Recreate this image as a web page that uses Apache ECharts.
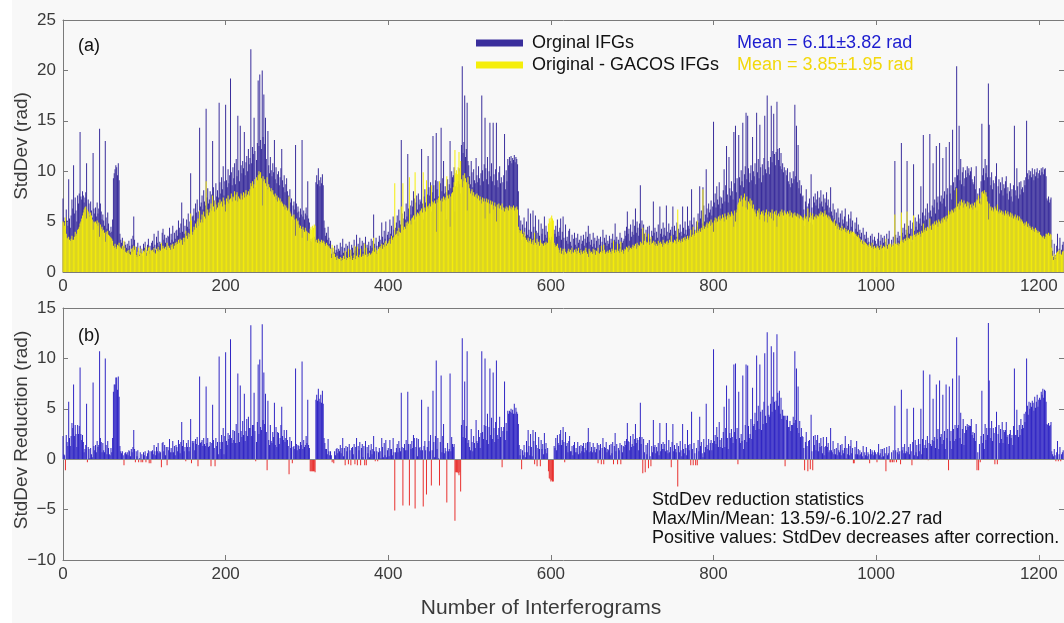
<!DOCTYPE html>
<html><head><meta charset="utf-8">
<script src="https://cdn.jsdelivr.net/npm/echarts@6/dist/echarts.min.js"></script>
<style>html,body{margin:0;padding:0;background:#fff}#c{width:1064px;height:623px}</style>
</head><body><div id="c"></div>
<script>
const X_TICKS = [0, 200, 400, 600, 800, 1000, 1200];
const YA_TICKS = [0, 5, 10, 15, 20, 25];
const YB_TICKS = [-10, -5, 0, 5, 10, 15];
const SERIES_NAMES = ['Orginal IFGs', 'Original - GACOS IFGs'];
const MEAN_TEXT = ['Mean = 6.11\u00b13.82 rad', 'Mean = 3.85\u00b11.95 rad'];
const STATS_TEXT = ['StdDev reduction statistics', 'Max/Min/Mean: 13.59/-6.10/2.27 rad', 'Positive values: StdDev decreases after correction.'];

// StdDev of original interferograms (blue, panel a), one value per interferogram
const ORIG = [
7.3,5.4,5.0,4.3,6.2,5.1,4.6,9.2,5.3,4.4,
5.6,7.2,6.3,10.6,5.8,7.4,6.1,5.0,7.6,6.8,
7.8,13.9,7.5,7.2,8.0,7.6,6.9,7.4,7.9,10.8,
5.9,7.2,6.8,5.6,7.0,6.1,5.4,11.8,6.3,5.8,
6.4,5.5,6.9,5.8,6.3,14.2,6.8,6.0,5.2,5.7,
5.1,4.6,13.0,5.4,4.3,5.9,4.8,4.1,3.9,4.5,
4.0,5.2,9.3,9.8,10.2,10.6,10.4,9.6,10.8,9.1,
3.8,3.2,2.9,3.4,2.6,2.5,3.0,2.7,2.4,2.8,
2.3,3.1,2.6,2.0,3.3,2.7,3.6,5.5,3.2,2.2,
2.5,1.8,2.9,2.1,1.7,2.6,2.0,2.3,1.6,2.8,
2.4,3.0,2.2,1.9,2.7,3.3,2.1,2.6,1.8,2.9,
3.1,2.5,3.8,2.7,2.2,3.5,2.9,4.1,2.6,3.0,
2.8,2.1,3.9,4.3,3.2,3.7,2.9,3.4,2.3,3.6,
3.5,4.4,2.9,3.8,3.2,4.6,3.0,3.9,3.3,4.1,
4.2,3.6,5.1,4.4,3.9,4.8,6.9,4.0,5.3,3.8,
4.6,3.9,5.2,4.5,5.8,4.3,5.0,9.8,4.7,5.5,
5.6,6.3,5.1,6.8,5.9,7.2,4.6,6.0,14.3,6.5,
6.9,7.6,6.2,8.1,7.0,6.6,16.2,7.4,8.3,6.8,
7.2,8.0,6.1,7.7,13.0,8.4,7.1,6.4,8.8,7.5,
8.1,7.4,16.8,8.9,7.8,9.4,8.2,10.5,7.6,9.0,
16.6,9.1,8.4,10.2,8.8,9.6,19.2,9.9,8.6,10.4,
9.3,10.8,8.7,11.2,9.5,15.5,10.1,9.0,14.5,10.6,
9.8,11.0,10.3,13.9,9.6,10.9,11.5,10.0,12.2,10.7,
11.3,22.1,10.8,12.4,11.7,15.3,12.0,8.4,11.1,12.8,
19.0,12.5,19.6,13.1,12.2,20.0,13.4,17.6,12.7,15.3,
11.2,8.3,14.0,10.6,9.8,11.4,10.1,9.5,10.8,9.9,
13.1,9.2,10.4,8.8,9.7,10.0,8.6,9.4,10.3,12.2,
9.1,8.4,9.6,7.9,8.7,9.3,8.0,7.6,6.0,8.2,
6.9,7.3,5.2,6.6,7.0,6.2,12.6,6.8,5.9,6.5,
6.0,5.4,6.3,5.7,13.1,5.5,6.1,5.2,5.8,6.4,
5.6,9.0,5.3,4.9,3.1,3.3,3.0,3.4,3.2,3.5,
3.3,8.9,9.6,8.7,10.3,9.1,8.5,9.4,8.8,9.7,
8.6,5.1,4.4,3.6,3.9,3.2,4.5,3.4,2.8,3.1,
1.8,2.4,1.6,2.0,2.6,1.9,2.2,2.7,2.0,2.3,
2.1,2.9,1.7,2.5,3.3,1.9,2.4,1.5,2.8,2.0,
2.6,1.8,3.0,2.2,1.6,2.7,2.4,1.9,3.2,2.1,
2.5,3.7,1.9,2.8,2.3,3.4,1.7,2.6,3.1,2.0,
2.9,2.2,3.5,1.8,2.7,2.4,3.0,2.1,2.6,3.3,
2.4,3.1,5.7,2.8,2.2,3.4,2.6,1.9,3.0,3.6,
3.2,2.7,4.9,3.5,2.9,4.1,3.3,5.0,2.8,3.7,
4.0,3.4,5.2,3.8,4.6,3.6,5.5,4.2,3.7,4.4,
4.9,5.6,4.3,6.2,5.1,4.7,13.1,5.8,4.2,5.3,
6.0,5.2,6.8,5.5,11.7,6.3,4.8,6.6,5.7,7.1,
6.5,8.0,7.3,5.0,6.9,7.6,6.2,7.8,6.7,7.2,
7.0,12.2,6.8,5.2,7.5,8.2,6.9,5.6,7.7,11.5,
8.4,7.6,8.9,6.0,7.9,13.5,8.6,7.3,9.1,13.8,
8.2,9.0,7.5,6.4,8.8,14.3,8.0,9.3,11.0,7.8,
8.5,7.9,5.2,9.2,8.1,8.7,13.0,8.3,10.0,9.4,
9.6,10.4,6.0,8.5,8.8,8.4,9.0,10.3,8.7,7.8,
12.6,20.4,11.8,12.9,17.5,11.4,12.2,16.8,11.0,10.6,
9.5,8.7,11.0,9.9,8.4,10.2,9.1,8.8,11.3,9.6,
8.9,10.5,9.3,8.6,9.8,17.5,10.1,9.0,10.7,15.3,
10.3,9.2,11.4,8.7,10.0,14.8,9.5,10.8,9.0,14.8,
9.7,8.6,10.2,14.8,9.1,8.4,9.9,10.5,8.8,9.4,
6.0,8.9,9.6,13.7,8.2,10.1,9.0,11.2,10.6,11.4,
11.0,11.5,10.8,11.3,11.1,11.6,10.9,11.4,11.2,10.7,
8.0,5.6,4.3,5.1,3.2,4.7,3.9,5.4,4.4,3.6,
5.0,3.7,6.3,4.2,3.5,5.8,4.0,3.3,6.1,4.5,
3.4,5.6,4.1,2.6,3.9,5.2,3.6,2.5,4.8,3.8,
4.3,3.1,5.5,3.7,4.6,3.4,4.0,3.6,3.4,3.0,
3.2,3.5,3.1,2.9,4.2,3.8,4.6,3.5,5.2,4.0,
3.6,4.4,5.3,3.2,4.0,5.5,3.4,2.0,4.7,3.1,
3.5,2.8,4.1,4.3,3.0,2.6,3.7,2.4,3.3,3.9,
2.7,3.4,2.5,3.8,2.9,3.2,2.3,3.6,2.8,3.1,
3.7,2.6,3.3,4.0,2.9,3.5,4.6,3.0,3.8,2.7,
3.2,2.5,3.9,2.8,3.4,2.4,3.1,3.6,2.0,3.3,
2.7,3.5,2.1,3.0,4.2,2.2,3.4,2.9,3.7,2.6,
3.1,2.8,3.6,2.4,3.3,2.9,3.8,2.6,3.2,4.8,
3.0,3.5,2.3,3.2,2.8,3.9,2.5,3.4,2.9,3.1,
3.3,4.1,3.6,4.5,6.0,3.8,4.3,3.1,4.7,3.5,
4.0,5.2,3.7,4.6,6.3,3.9,5.0,4.4,3.6,4.8,
8.6,4.3,5.1,3.0,4.7,3.8,2.6,4.2,3.5,4.5,
2.9,4.6,3.3,2.8,4.1,3.6,7.0,3.9,4.4,3.2,
4.0,3.4,4.7,3.1,6.5,3.8,4.3,3.5,4.9,3.7,
4.4,3.6,6.6,4.0,3.3,4.8,3.9,4.2,2.8,4.5,
6.5,3.7,4.6,4.1,3.5,4.9,3.5,4.3,3.9,4.7,
4.0,3.6,6.5,4.4,3.8,5.0,4.2,3.7,6.5,4.6,
4.3,5.1,3.6,8.2,4.7,3.9,5.4,4.2,3.5,5.0,
4.5,5.8,4.9,8.5,5.3,6.1,4.8,8.4,6.6,5.0,
5.7,10.2,6.3,5.4,6.8,5.9,6.2,7.1,5.6,6.5,
14.9,6.9,7.8,6.4,8.5,7.2,6.7,8.9,7.5,6.3,
7.4,6.8,8.1,10.2,7.0,8.6,12.5,7.7,6.9,11.4,
8.3,7.6,9.0,8.0,7.2,13.9,8.8,14.5,7.9,9.3,
6.2,13.6,9.4,8.6,10.1,9.0,14.8,8.4,9.7,10.5,
15.8,9.2,15.5,10.3,8.9,9.8,10.6,9.1,13.4,10.0,
9.5,10.8,8.7,15.8,9.9,11.2,9.3,14.6,10.4,8.9,
10.7,9.6,11.3,15.5,10.2,9.8,17.5,11.0,10.4,9.7,
11.4,16.5,10.9,12.0,15.7,11.7,10.6,11.9,16.9,12.2,
11.1,12.3,10.5,11.8,10.2,10.8,9.9,10.4,5.2,10.1,
9.6,10.3,9.0,8.7,9.9,8.4,9.3,8.8,10.0,9.2,
16.6,9.5,14.5,8.9,12.6,8.3,9.1,7.8,8.6,7.5,
7.6,6.2,4.6,7.0,8.2,6.5,5.1,6.8,7.3,4.9,
9.7,6.4,4.7,7.5,6.9,7.8,6.6,7.2,8.0,6.3,
7.4,6.8,8.1,7.0,6.5,7.7,6.2,7.3,6.9,7.9,
6.6,7.2,5.9,6.4,8.4,6.0,5.6,6.8,5.3,6.2,
5.1,5.9,4.7,6.3,5.4,4.9,5.8,4.5,6.1,5.2,
4.8,5.5,6.3,4.4,5.0,4.6,5.7,4.2,5.3,6.0,
4.5,5.1,3.6,3.5,4.9,4.3,5.4,4.0,4.7,3.8,
4.2,3.5,3.9,3.1,4.4,2.8,3.7,3.3,4.0,2.9,
3.4,3.0,2.4,3.6,2.9,3.8,3.2,2.7,3.5,3.1,
2.8,2.2,3.3,3.9,2.6,3.1,3.7,2.5,3.4,2.9,
3.6,3.0,2.1,3.8,2.7,3.3,4.1,2.4,2.5,3.2,
2.4,3.5,2.6,11.0,3.7,2.5,3.4,4.0,3.1,3.6,
2.6,12.8,3.9,4.4,3.5,4.8,3.7,4.2,11.0,3.9,
4.6,3.8,5.1,4.3,3.0,4.9,10.7,4.1,5.4,4.5,
5.0,4.2,5.7,4.8,5.3,8.5,4.6,5.9,13.6,5.1,
5.6,6.3,5.2,6.8,4.3,5.9,13.7,6.1,5.5,6.6,
10.8,6.4,7.2,5.8,12.5,6.9,7.5,6.2,12.8,7.0,
7.6,6.8,11.3,7.3,8.0,6.5,12.4,7.7,8.3,5.0,
12.9,7.8,8.6,7.2,14.1,8.9,8.1,9.4,8.4,20.4,
9.6,10.2,14.5,9.1,11.2,8.7,9.9,10.4,8.5,9.3,
10.1,9.4,10.5,9.8,10.3,9.6,10.0,10.4,9.2,8.9,
8.7,9.5,8.2,10.5,6.1,7.8,6.5,8.3,7.0,9.0,
14.7,9.6,10.3,9.1,11.2,9.8,10.6,9.4,18.7,14.6,
9.4,8.6,9.9,8.2,9.1,8.8,6.0,9.5,10.8,6.2,
8.5,9.2,7.8,8.9,8.1,9.4,7.6,8.7,8.3,9.0,
9.5,7.8,8.4,7.2,8.0,8.8,7.5,8.2,7.0,8.6,
14.5,8.1,7.6,10.3,8.5,7.3,8.9,7.7,9.0,8.2,
8.4,7.9,9.1,8.6,9.4,15.0,9.8,9.2,10.1,9.6,
10.0,9.4,10.3,9.7,9.1,10.2,9.5,9.9,10.3,9.3,
9.8,10.1,9.6,10.3,9.9,10.4,9.7,10.2,10.3,9.5,
7.3,7.1,7.5,6.9,7.2,7.4,3.2,2.1,1.5,2.8,
1.7,1.4,2.6,3.8,1.9,2.3,3.4,1.6,2.2,2.7,3.0
];

// StdDev of Original - GACOS interferograms (yellow, panel a)
const GACOS = [
5.0,4.9,4.6,5.4,3.8,3.4,3.3,3.5,3.2,3.1,
3.3,3.6,3.2,3.2,3.5,4.0,3.6,3.8,4.2,4.3,
4.5,4.8,5.0,5.3,5.6,5.9,6.2,6.4,6.5,5.3,
6.2,6.0,5.8,5.5,5.9,5.6,5.2,4.2,5.0,4.9,
5.0,4.8,5.1,4.6,4.9,3.5,4.7,4.3,4.5,4.1,
4.2,3.9,3.0,4.0,3.8,4.1,3.7,3.6,3.5,3.4,
3.3,3.1,2.6,2.4,2.8,2.5,2.3,2.7,2.6,2.9,
2.5,2.4,2.3,2.6,2.2,3.1,2.4,2.0,1.9,2.1,
1.9,2.2,1.8,1.7,2.3,2.0,2.4,2.6,2.2,2.5,
1.7,1.5,2.0,2.4,1.6,1.9,2.3,1.8,1.9,2.1,
2.0,2.2,2.5,1.6,2.1,2.4,2.5,1.8,2.2,2.1,
2.2,2.0,2.4,1.9,1.8,2.3,2.1,2.5,2.0,2.2,
2.1,2.9,2.3,2.6,2.4,2.3,2.5,2.2,2.9,2.4,
2.6,2.4,2.2,2.7,2.5,2.8,2.3,2.6,2.9,2.7,
3.0,2.8,3.2,2.9,3.3,3.1,3.2,2.7,3.4,3.0,
3.4,4.1,3.6,3.3,3.9,3.5,3.8,5.8,5.1,3.7,
4.0,4.5,4.2,4.8,4.4,5.0,5.3,4.6,6.1,4.9,
5.2,5.7,4.9,6.0,5.5,5.3,9.0,5.8,6.2,5.6,
5.9,6.3,6.8,6.1,7.6,6.5,6.0,7.1,6.7,6.2,
6.4,6.9,6.6,7.2,6.8,7.0,6.5,7.4,7.1,6.7,
6.0,7.3,7.0,7.6,6.8,7.2,7.3,7.8,7.0,7.5,
7.4,8.0,7.1,7.7,7.9,7.0,7.5,7.3,7.2,7.8,
7.6,7.2,7.9,7.4,7.8,8.1,7.5,7.7,8.0,7.6,
8.2,8.8,8.5,9.0,8.3,8.7,9.2,8.6,9.4,9.1,
9.6,10.0,9.7,9.9,9.3,6.6,9.5,9.0,9.2,8.8,
8.5,9.4,8.2,8.7,8.4,8.0,8.3,7.9,8.1,7.7,
7.5,7.8,7.2,7.6,7.0,7.4,7.1,7.3,6.9,7.0,
6.8,6.5,6.7,6.2,6.6,6.4,6.1,6.3,7.5,6.0,
5.8,5.5,5.6,5.4,5.7,5.2,3.6,5.3,5.0,5.1,
4.7,4.4,4.6,4.3,3.4,4.5,4.2,4.0,4.4,4.1,
4.0,3.1,3.9,3.8,4.3,4.5,4.2,4.6,4.4,4.7,
4.6,3.0,3.2,2.9,3.3,3.1,2.8,3.0,3.2,2.9,
3.1,3.0,2.8,2.6,2.9,2.7,2.5,2.6,2.4,2.3,
1.4,2.7,1.7,2.4,1.8,1.5,1.2,1.6,1.4,1.3,
1.3,1.5,1.1,1.4,1.2,1.6,1.3,2.1,1.5,1.2,
1.4,2.3,1.5,1.3,2.2,1.6,1.2,1.4,1.7,2.6,
1.3,1.6,2.5,1.5,1.4,1.7,2.3,1.5,1.6,1.8,
1.6,2.8,1.7,2.4,1.5,1.8,1.6,1.9,1.7,1.8,
1.9,2.1,3.4,2.0,2.4,2.2,1.8,2.1,2.3,2.5,
2.4,2.6,2.8,2.3,2.7,2.5,2.9,3.1,2.6,2.8,
2.9,3.1,3.3,2.8,3.6,3.2,3.4,3.5,8.8,3.7,
3.8,4.1,3.6,4.4,4.0,3.9,6.5,4.6,8.8,4.2,
4.5,4.3,4.9,4.6,5.0,4.8,9.4,5.1,4.7,5.3,
5.4,5.6,5.2,9.9,5.7,5.5,5.9,5.8,5.6,6.0,
6.1,6.3,5.9,9.9,6.2,6.4,6.0,9.1,6.5,6.3,
6.6,6.8,6.5,8.6,7.0,6.7,6.9,7.1,6.8,4.0,
7.2,6.9,7.4,9.0,7.1,6.0,7.3,7.0,7.5,7.2,
7.4,7.1,9.5,7.6,7.3,7.7,4.5,7.5,7.8,7.9,
8.4,8.9,12.1,9.8,10.1,9.7,10.4,11.9,10.0,11.0,
9.2,8.4,9.6,9.0,9.8,9.3,8.9,6.1,9.4,8.7,
8.3,7.8,8.0,8.2,7.6,7.9,7.5,7.7,7.4,7.8,
7.3,7.6,7.1,7.5,7.2,6.8,7.4,7.0,7.3,5.3,
7.0,7.3,6.9,7.2,6.8,5.8,7.1,6.7,7.0,6.2,
6.6,6.9,6.5,5.0,6.7,6.4,6.8,6.3,6.6,6.2,
6.8,6.1,6.4,6.0,6.3,6.5,6.2,6.4,6.1,6.6,
6.3,6.5,6.2,6.4,6.6,6.1,6.4,6.3,6.5,6.2,
4.5,4.2,3.9,4.1,4.2,3.8,3.5,4.0,3.7,3.4,
3.2,3.0,3.4,2.9,3.1,3.3,2.8,3.0,3.2,2.7,
3.9,2.9,2.7,3.3,2.8,3.0,2.6,3.2,2.9,2.8,
2.8,2.6,2.9,2.7,3.0,2.8,2.9,4.8,5.3,5.0,
5.4,5.6,5.3,5.1,2.9,2.7,2.5,2.6,2.8,2.4,
2.2,1.9,2.4,1.8,2.1,2.3,1.7,2.3,2.0,1.8,
1.9,2.1,2.3,2.0,2.2,1.8,2.4,2.0,1.9,2.2,
2.0,2.3,1.8,2.1,2.4,1.9,1.7,2.2,2.0,1.8,
2.1,1.9,2.2,2.4,2.0,1.8,1.5,2.3,2.1,1.9,
2.0,1.8,2.3,1.9,2.2,1.7,2.1,2.0,2.4,1.9,
1.8,2.0,2.6,1.9,2.1,2.7,2.2,1.8,2.0,1.9,
2.1,1.9,2.2,2.0,1.8,2.3,2.1,3.1,1.9,2.2,
2.2,2.0,2.8,2.1,1.9,2.3,3.0,2.0,2.2,1.8,
2.1,2.3,2.2,2.5,2.4,2.0,2.6,2.2,2.4,2.3,
2.5,2.7,2.4,2.6,2.8,2.3,2.9,2.5,2.7,2.6,
3.0,2.8,2.9,4.4,2.7,3.1,3.9,2.8,3.0,2.9,
3.8,2.7,3.0,3.5,2.8,2.9,3.1,2.7,3.0,2.6,
2.8,2.6,3.1,2.7,2.9,3.0,2.8,2.5,3.2,2.7,
2.9,2.8,3.0,3.1,2.7,2.9,3.2,3.0,3.6,2.8,
3.0,2.9,3.2,3.1,2.8,3.3,6.2,3.0,3.2,2.9,
3.1,3.3,3.0,3.4,3.2,3.5,3.1,3.3,3.6,3.2,
3.4,3.6,4.2,3.5,3.7,4.5,3.8,3.6,4.1,3.9,
5.1,3.9,4.1,4.3,4.0,4.4,4.2,8.2,4.6,4.3,
4.5,4.7,4.9,4.4,4.8,5.0,4.6,5.2,4.7,4.9,
4.0,5.1,5.4,4.9,5.3,5.0,5.5,5.2,5.6,5.1,
5.3,5.7,5.4,5.0,5.8,5.5,5.2,5.6,5.9,5.4,
5.7,5.5,6.0,5.8,5.6,4.5,6.1,5.0,5.9,6.2,
6.7,6.9,7.3,7.0,7.6,7.2,6.5,7.4,7.8,7.1,
6.4,7.5,6.2,7.0,6.8,7.3,6.6,7.1,6.3,6.7,
6.0,6.2,5.8,5.5,6.1,5.9,6.3,5.2,5.7,6.0,
5.8,6.1,5.6,5.0,5.9,6.2,4.9,5.7,6.0,5.5,
5.9,5.3,6.2,5.8,5.1,6.0,5.7,6.1,4.5,5.6,
5.8,5.5,6.0,5.7,6.2,5.9,5.6,6.1,5.9,5.8,
5.7,6.0,5.8,5.5,6.1,5.6,5.9,5.4,5.8,5.6,
5.9,5.6,5.5,5.8,5.4,5.7,5.3,5.6,5.5,5.2,
5.4,5.1,5.7,5.3,5.5,5.2,6.3,5.0,5.4,5.9,
5.3,5.6,5.8,5.2,5.5,5.4,5.7,5.3,5.6,5.5,
5.8,5.6,6.0,5.7,5.9,5.5,5.8,6.1,5.6,5.7,
5.4,5.6,5.2,5.5,5.3,5.1,4.9,5.0,4.8,5.2,
4.6,4.8,4.3,4.7,4.5,4.2,4.4,4.1,4.6,4.3,
4.2,4.4,4.0,4.3,3.9,4.1,4.2,3.8,4.0,4.1,
3.9,4.0,4.0,3.9,3.7,3.8,3.6,3.5,3.7,3.4,
3.3,3.0,3.2,2.8,3.1,2.7,3.0,2.9,2.8,2.6,
2.7,2.5,2.8,2.6,2.4,2.9,2.5,2.3,2.6,2.4,
2.3,2.5,2.6,2.4,2.2,2.5,2.7,2.3,2.4,2.6,
2.5,2.4,3.3,2.6,2.3,2.7,2.8,2.7,2.8,2.5,
2.7,2.6,2.9,5.7,2.8,2.8,2.7,2.9,2.6,2.8,
3.1,5.9,3.0,3.2,2.9,3.3,3.1,3.4,6.0,3.2,
3.4,3.3,3.6,3.5,3.6,3.2,5.6,3.7,3.5,3.8,
3.6,3.9,3.7,4.0,3.8,3.5,4.1,3.9,4.8,4.0,
4.2,4.4,4.1,4.5,4.4,4.3,5.3,4.6,4.2,4.7,
4.8,4.6,5.0,4.7,5.1,4.9,4.5,5.2,5.0,4.8,
5.1,5.3,4.9,5.4,5.2,5.5,5.0,5.6,5.3,6.1,
5.7,6.0,5.8,6.2,6.1,5.9,6.3,6.0,6.4,8.3,
6.5,6.8,6.2,7.0,6.6,7.2,6.9,6.4,7.1,6.7,
6.8,6.5,7.0,6.6,6.9,6.3,6.7,6.4,6.8,6.2,
6.6,6.9,6.4,7.0,7.2,7.1,7.6,6.8,7.3,6.7,
7.9,8.0,7.8,8.1,7.7,7.9,7.5,7.0,5.2,6.8,
6.3,6.5,6.1,6.4,6.0,6.2,6.5,6.3,6.1,6.7,
6.0,5.8,6.2,5.9,6.1,5.7,6.0,5.8,5.6,6.1,
5.8,5.6,6.0,5.7,5.5,5.9,5.4,5.8,5.6,5.3,
5.5,5.7,5.2,5.4,5.6,5.1,5.5,5.3,5.0,5.2,
5.0,4.8,4.6,4.9,4.7,5.0,4.5,4.8,4.4,4.6,
4.4,4.2,4.5,4.1,4.3,4.0,4.4,4.2,3.9,4.1,
3.9,4.0,3.7,3.6,3.5,3.4,3.6,3.3,3.5,3.8,
3.8,3.7,3.9,3.6,3.8,3.7,2.4,1.6,1.2,1.8,
1.3,1.6,1.9,2.0,2.1,1.8,2.2,1.8,1.7,2.0,2.1
];

// Panel (b): StdDev reduction = original StdDev minus corrected StdDev, per interferogram
const REDUCTION = ORIG.map((v, i) => Math.round((v - GACOS[i]) * 100) / 100);

const FONT = '"Liberation Sans", Arial, Helvetica, sans-serif';
const AX = '#7a7a7a', TXT = '#3a3a3a';
const BLUE_A = '#3a2e9c', YEL = '#f5ee0a', BLUE_B = '#3026c4', RED = '#e8302e';
const X_MAX = 1231;

function xBottom(g) {
  return { type: 'value', gridIndex: g, min: 0, max: X_MAX, interval: 200, position: 'bottom',
    axisLine: { show: true, onZero: false, lineStyle: { color: AX, width: 1 } },
    axisTick: { show: true, inside: true, length: 5, customValues: X_TICKS, lineStyle: { color: AX } },
    axisLabel: { customValues: X_TICKS, fontSize: 17, color: TXT, margin: 6, fontFamily: FONT,
      formatter: v => String(v) },
    splitLine: { show: false } };
}
function xTop(g) {
  return { type: 'value', gridIndex: g, min: 0, max: X_MAX, interval: 200, position: 'top',
    axisLine: { show: true, onZero: false, lineStyle: { color: AX, width: 1 } },
    axisTick: { show: true, inside: true, length: 5, customValues: X_TICKS, lineStyle: { color: AX } },
    axisLabel: { show: false }, splitLine: { show: false } };
}
function yLeft(g, mn, mx, ticks) {
  return { type: 'value', gridIndex: g, min: mn, max: mx, interval: 5, position: 'left',
    axisLine: { show: true, onZero: false, lineStyle: { color: AX, width: 1 } },
    axisTick: { show: true, inside: true, length: 5, customValues: ticks, lineStyle: { color: AX } },
    axisLabel: { customValues: ticks, fontSize: 17, color: TXT, margin: 7, fontFamily: FONT,
      formatter: v => String(v).replace('-', '\u2212') },
    splitLine: { show: false } };
}
function yRight(g, mn, mx, ticks) {
  return { type: 'value', gridIndex: g, min: mn, max: mx, interval: 5, position: 'right',
    axisLine: { show: false, onZero: false },
    axisTick: { show: true, inside: true, length: 5, customValues: ticks, lineStyle: { color: AX } },
    axisLabel: { show: false }, splitLine: { show: false } };
}

const chart = echarts.init(document.getElementById('c'), null, { renderer: 'canvas' });
const txt = (x, y, text, opt) => Object.assign({ type: 'text', x: x, y: y, silent: true,
  style: Object.assign({ text: text, font: '18px ' + FONT, fill: '#111', align: 'left', verticalAlign: 'middle' }, opt || {}) });

chart.setOption({
  animation: false,
  backgroundColor: '#f8f8f8',
  textStyle: { fontFamily: FONT },
  grid: [
    { left: 63, right: 0, top: 20, height: 252, containLabel: false, outerBoundsMode: 'none' },
    { left: 63, right: 0, top: 308, height: 252, containLabel: false, outerBoundsMode: 'none' }
  ],
  xAxis: [xBottom(0), xTop(0), xBottom(1), xTop(1)],
  yAxis: [yLeft(0, 0, 25, YA_TICKS), yRight(0, 0, 25, YA_TICKS), yLeft(1, -10, 15, YB_TICKS), yRight(1, -10, 15, YB_TICKS)],
  legend: {
    data: SERIES_NAMES, orient: 'vertical', left: 476, top: 34, padding: 0, icon: 'rect',
    itemWidth: 47, itemHeight: 7, itemGap: 4, selectedMode: false,
    textStyle: { fontSize: 18, color: '#111', fontFamily: FONT, lineHeight: 18, padding: [0, 0, 0, 4] }
  },
  series: [
    { name: SERIES_NAMES[0], type: 'bar', xAxisIndex: 0, yAxisIndex: 0, barWidth: 1, barGap: '-100%',
      data: ORIG.map((v, i) => [i, v]), itemStyle: { color: BLUE_A }, silent: true },
    { name: SERIES_NAMES[1], type: 'bar', xAxisIndex: 0, yAxisIndex: 0, barWidth: 1, barGap: '-100%',
      data: GACOS.map((v, i) => [i, v]), itemStyle: { color: YEL }, silent: true },
    { name: 'StdDev Reduction', type: 'bar', xAxisIndex: 2, yAxisIndex: 2, barWidth: 1,
      data: REDUCTION.map((v, i) => [i, v]), silent: true,
      itemStyle: { color: p => (p.value[1] >= 0 ? BLUE_B : RED) },
      markLine: { silent: true, symbol: 'none', label: { show: false },
        lineStyle: { color: '#8a8a8a', width: 1, type: 'solid' }, data: [{ yAxis: 0 }] } }
  ],
  graphic: [
    { type: 'rect', x: 0, y: 0, shape: { width: 12, height: 623 }, style: { fill: '#ffffff' }, silent: true },
    txt(78, 46, '(a)'),
    txt(78, 336, '(b)'),
    txt(737, 43, MEAN_TEXT[0], { fill: '#1c1ccf' }),
    txt(737, 65, MEAN_TEXT[1], { fill: '#f2d80c' }),
    txt(652, 500, STATS_TEXT[0]),
    txt(652, 519, STATS_TEXT[1]),
    txt(652, 538, STATS_TEXT[2]),
    txt(541, 608, 'Number of Interferograms', { align: 'center', fill: '#3a3a3a', font: '21px ' + FONT }),
    Object.assign(txt(22, 146, 'StdDev (rad)', { align: 'center', fill: '#3a3a3a', font: '19px ' + FONT }), { rotation: Math.PI / 2 }),
    Object.assign(txt(22, 430, 'StdDev Reduction (rad)', { align: 'center', fill: '#3a3a3a', font: '19px ' + FONT }), { rotation: Math.PI / 2 })
  ]
});
</script>
</body></html>
